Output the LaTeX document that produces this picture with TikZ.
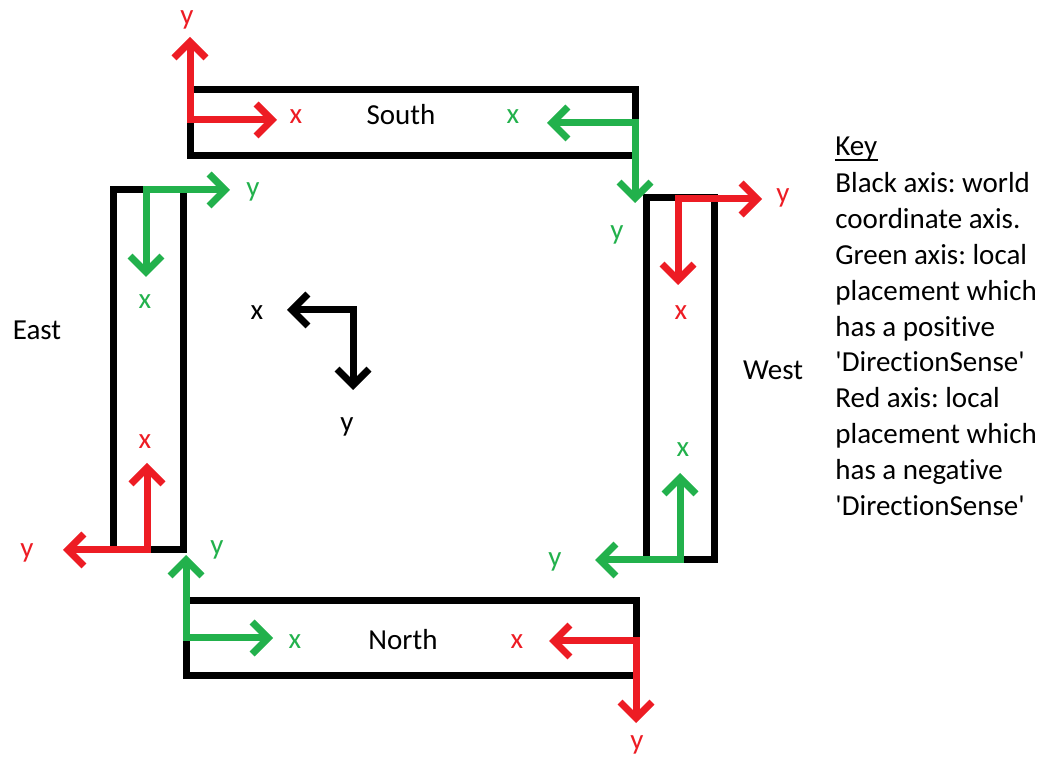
\documentclass[tikz,border=0pt]{standalone}
\usepackage{fontspec}
\setmainfont{Carlito}[Ligatures={NoCommon}]
\usetikzlibrary{arrows.meta}

\definecolor{paintred}{RGB}{237,28,36}
\definecolor{paintgreen}{RGB}{34,177,76}
\frenchspacing

\begin{document}
\begin{tikzpicture}[
                x=0.5pt, y=-0.5pt,
                font=\fontsize{14.5}{17.9}\selectfont,
                every node/.style={inner sep=0pt},
                wall/.style={line width=3.5pt},
                axes/.style={line width=3.5pt, line join=miter,
                    {Straight Barb[length=8pt, width=16pt]}-{Straight Barb[length=8pt, width=16pt]}} ]

            \useasboundingbox (0,0) rectangle (1039,758);

            % the four walls
            \draw[wall] (190,89.5) rectangle (635,156);
            \draw[wall] (646,198) rectangle (714,560);
            \draw[wall] (113.5,190) rectangle (183,550);
            \draw[wall] (186.5,601) rectangle (636,676);

            \node (S) at (401,115) {South};
            \node (W) at (773,370) {West};
            \node (E) at (37,330) {East};
            \node (N) at (403,640) {North};

            % world axis
            \coordinate (O) at (353,310);
            \coordinate (Ox) at (287,310);
            \coordinate (Oy) at (353,390);
            \draw[axes] (Oy) -- (O) -- (Ox);
            \node (Oxl) at (257,313) {x};
            \node (Oyl) at (347,427) {y};

            % south
            \coordinate (SR) at (190,120);
            \coordinate (SRx) at (277,120);
            \coordinate (SRy) at (190,37);
            \draw[axes, paintred] (SRy) -- (SR) -- (SRx);
            \node[paintred] (SRxl) at (296,117) {x};
            \node[paintred] (SRyl) at (187,20) {y};

            \coordinate (SG) at (635,123);
            \coordinate (SGx) at (547,123);
            \coordinate (SGy) at (635,203);
            \draw[axes, paintgreen] (SGy) -- (SG) -- (SGx);
            \node[paintgreen] (SGxl) at (513,117) {x};
            \node[paintgreen] (SGyl) at (617,235) {y};

            % west
            \coordinate (WR) at (678,199);
            \coordinate (WRx) at (678,285);
            \coordinate (WRy) at (762,199);
            \draw[axes, paintred] (WRy) -- (WR) -- (WRx);
            \node[paintred] (WRxl) at (681,313) {x};
            \node[paintred] (WRyl) at (783,198) {y};

            \coordinate (WG) at (680,560);
            \coordinate (WGx) at (680,473);
            \coordinate (WGy) at (595,560);
            \draw[axes, paintgreen] (WGy) -- (WG) -- (WGx);
            \node[paintgreen] (WGxl) at (683,450) {x};
            \node[paintgreen] (WGyl) at (555,562) {y};

            % east
            \coordinate (EG) at (146,190);
            \coordinate (EGx) at (146,277);
            \coordinate (EGy) at (230,190);
            \draw[axes, paintgreen] (EGy) -- (EG) -- (EGx);
            \node[paintgreen] (EGxl) at (145,302) {x};
            \node[paintgreen] (EGyl) at (253,192) {y};

            \coordinate (ER) at (147,550);
            \coordinate (ERx) at (147,463);
            \coordinate (ERy) at (63,550);
            \draw[axes, paintred] (ERy) -- (ER) -- (ERx);
            \node[paintred] (ERxl) at (145,442) {x};
            \node[paintred] (ERyl) at (27,553) {y};

            % north
            \coordinate (NG) at (186,638);
            \coordinate (NGx) at (273,638);
            \coordinate (NGy) at (186,555);
            \draw[axes, paintgreen] (NGy) -- (NG) -- (NGx);
            \node[paintgreen] (NGxl) at (295,642) {x};
            \node[paintgreen] (NGyl) at (217,550) {y};

            \coordinate (NR) at (636,641);
            \coordinate (NRx) at (549,641);
            \coordinate (NRy) at (636,723);
            \draw[axes, paintred] (NRy) -- (NR) -- (NRx);
            \node[paintred] (NRxl) at (517,642) {x};
            \node[paintred] (NRyl) at (637,745) {y};

            % key
            \node[anchor=base west] (K) at (835,156) {Key};
            \draw[line width=0.7pt] ([yshift=-2pt]K.base west) -- ([yshift=-2pt]K.base east);
            \foreach \t [count=\i] in {Black axis: world, coordinate axis.,
                    Green axis: local, placement which, has a positive,
                    \textquotesingle DirectionSense\textquotesingle,
                    Red axis: local, placement which, has a negative,
                    \textquotesingle DirectionSense\textquotesingle} {
                    \node[anchor=base west] (K\i) at (835,{193+35.8*(\i-1)}) {\t};
                }
        \end{tikzpicture}
\end{document}
